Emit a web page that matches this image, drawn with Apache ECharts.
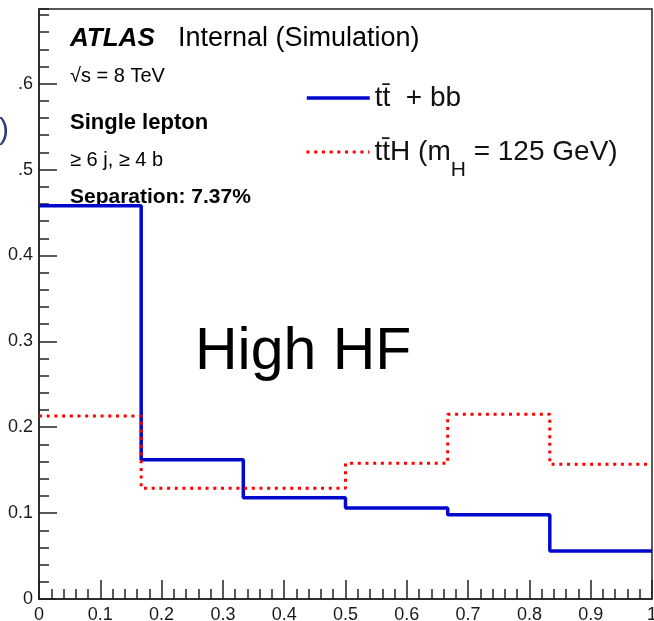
<!DOCTYPE html>
<html>
<head>
<meta charset="utf-8">
<script src="https://cdn.jsdelivr.net/npm/echarts@6/dist/echarts.min.js"></script>
<style>
  html, body { margin: 0; padding: 0; background: #fff; }
  #myChart { width: 654px; height: 621px; }
</style>
</head>
<body>
<div id="myChart"></div>
<script>
// bin edges of the histogram (6 bins between 0 and 1)
var binEdges = [0, 0.1667, 0.3333, 0.5, 0.6667, 0.8333, 1]
// normalised contents
var ttbbValues = [0.458, 0.162, 0.118, 0.106, 0.098, 0.056]
var tthValues = [0.213, 0.129, 0.129, 0.158, 0.215, 0.157]
var xTickLabels = ['0', '0.1', '0.2', '0.3', '0.4', '0.5', '0.6', '0.7', '0.8', '0.9', '1']
var yTickLabels = ['0', '0.1', '0.2', '0.3', '0.4', '.5', '.6']

var ttbbName = 'tt\u0304  + bb'
var tthName = 'tt\u0304H (mH = 125 GeV)'
var FONT = "'Liberation Sans', Arial, Helvetica, sans-serif"

// histogram -> step line points
function stepData (vals) {
  var out = []
  for (var i = 0; i < binEdges.length; i++) {
    out.push([binEdges[i], vals[Math.min(i, vals.length - 1)]])
  }
  return out
}

function tickLabel (arr, value, step) {
  var k = Math.round(value / step)
  if (Math.abs(value / step - k) > 1e-6) return ''
  return arr[k] || ''
}

var axisColor = '#222'
var blue = '#0008cc'
var red = '#ff0000'

var option = {
  animation: false,
  backgroundColor: '#fff',
  textStyle: { fontFamily: FONT },
  grid: {
    left: 39,
    right: 2,
    top: 9,
    bottom: 22,
    outerBoundsMode: 'none',
    containLabel: false,
    show: true,
    borderColor: axisColor,
    borderWidth: 1.5,
    backgroundColor: 'transparent'
  },
  xAxis: {
    type: 'value',
    min: 0,
    max: 1,
    interval: 0.1,
    axisLine: { show: true, onZero: false, lineStyle: { color: axisColor, width: 1.5 } },
    axisTick: { show: true, inside: true, length: 19, lineStyle: { color: axisColor, width: 1.5 } },
    minorTick: { show: true, splitNumber: 5, length: 10, lineStyle: { color: axisColor, width: 1.5 } },
    splitLine: { show: false },
    axisLabel: {
      fontSize: 18,
      color: '#1a1a1a',
      fontFamily: FONT,
      margin: 7,
      showMaxLabel: true,
      formatter: function (v) { return tickLabel(xTickLabels, v, 0.1) }
    }
  },
  yAxis: [
    {
      type: 'value',
      position: 'left',
      min: 0,
      max: 0.687,
      interval: 0.1,
      axisLine: { show: true, onZero: false, lineStyle: { color: axisColor, width: 1.5 } },
      axisTick: { show: true, inside: true, length: 18, lineStyle: { color: axisColor, width: 1.5 } },
      splitLine: { show: false },
      axisLabel: {
        fontSize: 18,
        color: '#1a1a1a',
        fontFamily: FONT,
        margin: 6,
        showMaxLabel: false,
        formatter: function (v) { return tickLabel(yTickLabels, v, 0.1) }
      }
    },
    {
      // minor ticks every 0.02
      type: 'value',
      position: 'left',
      offset: 0,
      min: 0,
      max: 0.687,
      interval: 0.02,
      axisLine: { show: false, onZero: false },
      axisTick: { show: true, inside: true, length: 10, lineStyle: { color: axisColor, width: 1.5 } },
      splitLine: { show: false },
      axisLabel: { show: false }
    }
  ],
  legend: [
    {
      data: [ttbbName],
      left: 300,
      top: 78,
      itemWidth: 63,
      itemHeight: 14,
      selectedMode: false,
      itemStyle: { opacity: 0, borderWidth: 0 },
      lineStyle: { width: 3.5 },
      textStyle: { fontSize: 28, color: '#111', fontFamily: FONT, lineHeight: 30 }
    },
    {
      data: [tthName],
      left: 300,
      top: 132,
      itemWidth: 63,
      itemHeight: 14,
      selectedMode: false,
      itemStyle: { opacity: 0, borderWidth: 0 },
      lineStyle: { width: 3 },
      formatter: function () {
        return '{n|tt\u0304H (m}{s|H}{n| = 125 GeV)}'
      },
      textStyle: {
        fontSize: 28,
        color: '#111',
        fontFamily: FONT,
        rich: {
          n: { fontSize: 28, lineHeight: 30, fontFamily: FONT, color: '#111' },
          s: { fontSize: 21, lineHeight: 20, padding: [23, 0, 0, 0], verticalAlign: 'top', fontFamily: FONT, color: '#111' }
        }
      }
    }
  ],
  graphic: [
    {
      type: 'text', left: 70, top: 26,
      style: { text: 'ATLAS', font: 'italic bold 26px ' + FONT, fill: '#000' }
    },
    {
      type: 'text', left: 178, top: 25,
      style: { text: 'Internal (Simulation)', font: '27px ' + FONT, fill: '#000' }
    },
    {
      type: 'text', left: 70, top: 66,
      style: { text: '\u221As = 8 TeV', font: '20px ' + FONT, fill: '#000' }
    },
    {
      type: 'text', left: 70, top: 112,
      style: { text: 'Single lepton', font: 'bold 22px ' + FONT, fill: '#000' }
    },
    {
      type: 'text', left: 70, top: 150,
      style: { text: '\u2265 6 j, \u2265 4 b', font: '20px ' + FONT, fill: '#000' }
    },
    {
      type: 'text', left: 70, top: 187,
      style: { text: 'Separation: 7.37%', font: 'bold 21px ' + FONT, fill: '#000' }
    },
    {
      type: 'text', left: 195, top: 323,
      style: { text: 'High HF', font: '59px ' + FONT, fill: '#000' }
    },
    {
      // tail of the cut-off y axis title
      type: 'text', left: -1, top: 116,
      style: { text: ')', font: '30px ' + FONT, fill: '#2a3a7a' }
    }
  ],
  series: [
    {
      name: ttbbName,
      type: 'line',
      step: 'end',
      symbol: 'none',
      data: stepData(ttbbValues),
      lineStyle: { color: blue, width: 3.5 },
      itemStyle: { color: blue }
    },
    {
      name: tthName,
      type: 'line',
      step: 'end',
      symbol: 'none',
      data: stepData(tthValues),
      lineStyle: { color: red, width: 3, type: [3, 4.7] },
      itemStyle: { color: red }
    }
  ]
}

var myChart = echarts.init(document.getElementById('myChart'), null, { renderer: 'canvas' })
myChart.setOption(option)
</script>
</body>
</html>
